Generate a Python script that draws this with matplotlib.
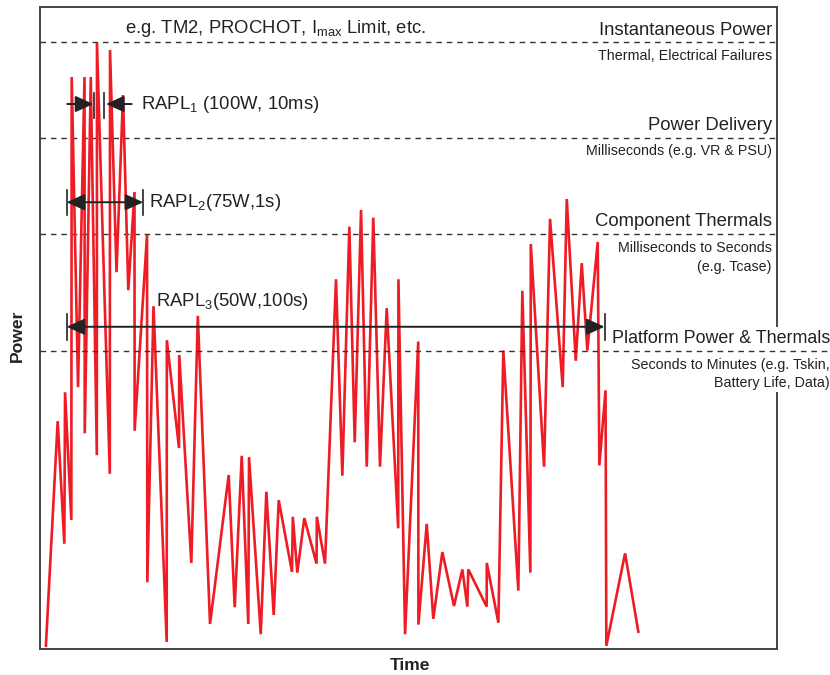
import matplotlib
matplotlib.use('Agg')
import matplotlib.pyplot as plt
from matplotlib.patches import Rectangle

plt.rcParams['font.family'] = ['Liberation Sans', 'DejaVu Sans']
plt.rcParams['mathtext.fontset'] = 'custom'
plt.rcParams['mathtext.rm'] = 'Liberation Sans'
plt.rcParams['mathtext.it'] = 'Liberation Sans:italic'

# power trace (time and power in arbitrary 0-100 units)
time = [0.8, 2.4, 3.3, 3.4, 4.25, 4.3, 5.16, 6.04, 6.07, 6.89, 7.71, 7.73,
        9.47, 9.5, 10.38, 11.26, 11.98, 12.82, 12.84, 14.52, 14.56, 15.4,
        17.19, 17.21, 18.86, 18.89, 20.53, 21.41, 23.07, 25.6, 26.42, 27.37,
        28.26, 28.36, 29.95, 30.71, 31.71, 32.39, 34.19, 34.3, 34.91, 35.86,
        37.52, 37.56, 38.67, 40.16, 41.02, 41.97, 42.7, 43.56, 44.33, 45.22,
        46.13, 47.04, 48.6, 48.63, 49.53, 51.32, 51.34, 52.47, 53.36, 54.59,
        56.17, 57.3, 57.98, 58.11, 60.6, 60.62, 62.19, 62.86, 64.9, 65.44,
        66.53, 66.59, 68.39, 69.2, 70.92, 71.47, 72.69, 73.5, 74.26, 75.67,
        75.89, 76.73, 76.84, 79.38, 81.18]
power = [0.5, 35.5, 16.4, 40.0, 20.1, 89.1, 40.8, 89.1, 33.6, 89.1, 30.2, 94.4,
         27.3, 93.3, 58.7, 86.3, 55.9, 71.2, 34.0, 64.5, 10.4, 53.4,
         1.1, 48.1, 31.3, 45.8, 13.4, 51.9, 3.9, 27.1, 6.5, 30.1,
         3.9, 29.9, 2.3, 24.5, 5.3, 23.2, 12.0, 20.6, 11.9, 20.4,
         13.3, 20.6, 13.3, 57.6, 27.0, 65.8, 32.2, 68.4, 28.4, 67.2,
         28.4, 53.1, 18.8, 57.6, 2.3, 47.9, 3.8, 19.5, 4.7, 15.1,
         6.7, 12.4, 6.6, 12.4, 6.6, 13.4, 4.1, 46.5, 9.1, 55.8,
         11.9, 63.1, 28.4, 67.0, 40.8, 70.1, 44.9, 60.1, 46.5, 63.4,
         28.6, 40.3, 0.5, 14.9, 2.7]

# limit levels and their labels
levels = [94.5, 79.6, 64.6, 46.4]
level_names = ['Instantaneous Power', 'Power Delivery', 'Component Thermals',
               'Platform Power & Thermals']
level_notes = ['Thermal, Electrical Failures', 'Milliseconds (e.g. VR & PSU)',
               'Milliseconds to Seconds\n(e.g. Tcase)',
               'Seconds to Minutes (e.g. Tskin,\nBattery Life, Data)']

fig = plt.figure(figsize=(8.3, 6.75), dpi=100)
ax = fig.add_axes([0.0482, 0.0385, 0.888, 0.951])
ax.set_xlim(0, 100)
ax.set_ylim(0, 100)
ax.set_xticks([])
ax.set_yticks([])
for s in ax.spines.values():
    s.set_color('#444444')
    s.set_linewidth(1.4)

ax.plot(time, power, color='#ee1c25', lw=1.9, zorder=3, solid_joinstyle='miter')

dash = dict(color='#333333', lw=1.0, linestyle=(0, (4, 3.5)))
for lv in levels[:3]:
    ax.plot([0, 100], [lv, lv], zorder=2, **dash)

# top three labels sit just above / below their dashed line
for lv, name, note in zip(levels[:3], level_names[:3], level_notes[:3]):
    ax.text(99.3, lv + 0.6, name, ha='right', va='bottom', fontsize=13.3,
            color='#222222')
    ax.text(99.3, lv - 1.0, note, ha='right', va='top', fontsize=10.3,
            color='#222222', linespacing=1.45)

# platform label overhangs the right edge on a white patch
ax.add_patch(Rectangle((77.5, 40.0), 30.0, 10.2, facecolor='white',
                       edgecolor='none', clip_on=False, zorder=3.5))
ax.plot([0, 107.2], [levels[3], levels[3]], clip_on=False, zorder=4, **dash)
ax.text(107.2, levels[3] + 0.6, level_names[3], ha='right', va='bottom',
        fontsize=12.9, color='#222222', zorder=5)
ax.text(107.2, levels[3] - 1.0, level_notes[3], ha='right', va='top',
        fontsize=10.3, color='#222222', linespacing=1.4, zorder=5)

ax.text(32.0, 96.6, r'e.g. TM2, PROCHOT, I$_{\rm max}$ Limit, etc.',
        ha='center', va='center', fontsize=13.3, color='#222222')

arrow = dict(arrowstyle='-|>,head_length=0.55,head_width=0.25',
             color='#222222', lw=1.4, mutation_scale=20, shrinkA=0, shrinkB=0)
both = dict(arrowstyle='<|-|>,head_length=0.55,head_width=0.25',
            color='#222222', lw=1.4, mutation_scale=20, shrinkA=0, shrinkB=0)
bar = dict(color='#222222', lw=1.2)

# RAPL1 window
y1 = 84.9
ax.annotate('', xy=(7.23, y1), xytext=(3.7, y1), arrowprops=arrow, zorder=4)
ax.annotate('', xy=(8.96, y1), xytext=(12.44, y1), arrowprops=arrow, zorder=4)
ax.plot([7.37, 7.37], [82.7, 86.6], zorder=4, **bar)
ax.plot([8.72, 8.72], [82.7, 86.6], zorder=4, **bar)
ax.text(13.7, y1, r'RAPL$_{\rm 1}$ (100W, 10ms)', ha='left', va='center',
        fontsize=13.3, color='#222222')

# RAPL2 window
y2 = 69.6
ax.annotate('', xy=(14.0, y2), xytext=(3.62, y2), arrowprops=both, zorder=4)
ax.plot([3.62, 3.62], [67.6, 71.5], zorder=4, **bar)
ax.plot([14.02, 14.02], [67.6, 71.5], zorder=4, **bar)
ax.text(14.8, y2, r'RAPL$_{\rm 2}$(75W,1s)', ha='left', va='center',
        fontsize=13.3, color='#222222')

# RAPL3 window
y3 = 50.2
ax.annotate('', xy=(76.6, y3), xytext=(3.62, y3), arrowprops=both, zorder=4)
ax.plot([3.62, 3.62], [48.1, 52.2], zorder=4, **bar)
ax.plot([76.7, 76.7], [48.1, 52.2], zorder=4, **bar)
ax.text(15.8, 54.1, r'RAPL$_{\rm 3}$(50W,100s)', ha='left', va='center',
        fontsize=13.3, color='#222222')

fig.text(0.0205, 0.502, 'Power', rotation=90, ha='center', va='center',
         fontsize=12.6, fontweight='bold', color='#222222')
fig.text(0.4935, 0.0148, 'Time', ha='center', va='center',
         fontsize=12.6, fontweight='bold', color='#222222')

fig.savefig('out.png', dpi=100)
